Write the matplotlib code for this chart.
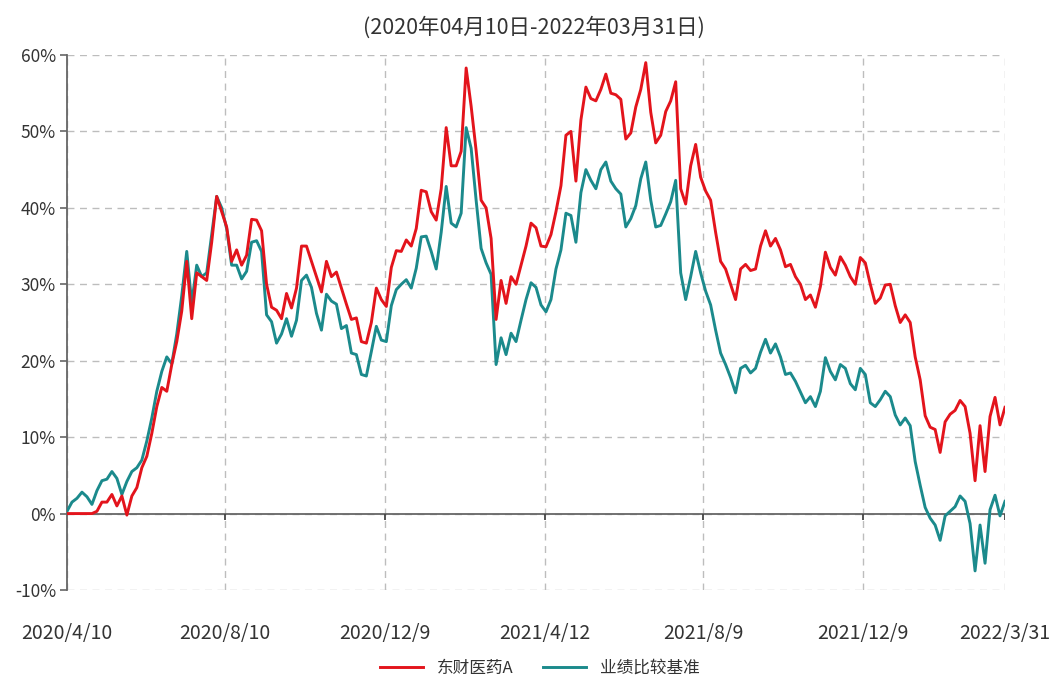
import matplotlib
matplotlib.use("Agg")
import matplotlib.pyplot as plt
from matplotlib.ticker import FixedLocator, FuncFormatter
import numpy as np

plt.rcParams['font.family'] = ['Noto Sans CJK SC', 'DejaVu Sans']

title = "(2020年04月10日-2022年03月31日)"
series_names = ["东财医药A", "业绩比较基准"]
x_tick_labels = ["2020/4/10", "2020/8/10", "2020/12/9", "2021/4/12", "2021/8/9", "2021/12/9", "2022/3/31"]
y_ticks = [-10, 0, 10, 20, 30, 40, 50, 60]

# cumulative return (%) of the fund, sampled evenly along the period
fund = [
    0, 0, 0, 0, 0, 0, 0.3, 1.5, 1.5, 2.5,
    1.0, 2.3, -0.2, 2.3, 3.4, 6.0, 7.5, 10.5, 14.0, 16.5,
    16.0, 19.5, 22.5, 26.5, 33.0, 25.5, 31.5, 31.0, 30.5, 35.5,
    41.5, 39.5, 37.5, 33.0, 34.5, 32.5, 33.8, 38.5, 38.4, 37.0,
    30.0, 27.0, 26.6, 25.5, 28.8, 26.9, 29.5, 35.0, 35.0, 33.0,
    31.0, 29.0, 33.0, 31.0, 31.6, 29.5, 27.4, 25.4, 25.6, 22.5,
    22.3, 25.0, 29.5, 28.0, 27.1, 32.2, 34.4, 34.3, 35.8, 35.0,
    37.3, 42.3, 42.1, 39.5, 38.4, 42.5, 50.5, 45.5, 45.5, 47.4,
    58.3, 53.3, 47.5, 41.0, 40.0, 36.0, 25.4, 30.5, 27.5, 31.0,
    30.0, 32.5, 35.0, 38.0, 37.4, 35.0, 34.9, 36.5, 39.5, 42.9,
    49.5, 50.0, 43.5, 51.5, 55.8, 54.3, 54.0, 55.5, 57.5, 55.0,
    54.8, 54.2, 49.0, 49.8, 53.2, 55.5, 59.0, 52.5, 48.5, 49.5,
    52.6, 54.0, 56.5, 42.5, 40.5, 45.5, 48.3, 44.0, 42.2, 41.0,
    36.8, 33.0, 32.0, 30.0, 28.0, 32.0, 32.6, 31.8, 32.0, 35.0,
    37.0, 35.0, 36.0, 34.5, 32.3, 32.6, 31.0, 30.0, 28.0, 28.6,
    27.0, 29.7, 34.2, 32.2, 31.2, 33.6, 32.5, 31.0, 30.0, 33.5,
    32.8, 30.0, 27.5, 28.2, 29.9, 30.0, 27.2, 25.0, 26.0, 25.0,
    20.5, 17.5, 12.8, 11.3, 11.0, 8.0, 12.0, 13.0, 13.5, 14.8,
    14.0, 10.5, 4.3, 11.5, 5.5, 12.7, 15.2, 11.6, 13.9,
]

# cumulative return (%) of the benchmark
bench = [
    0.3, 1.5, 2.0, 2.8, 2.2, 1.2, 3.0, 4.3, 4.5, 5.5,
    4.6, 2.5, 4.2, 5.5, 6.0, 7.0, 9.5, 12.5, 16.0, 18.6,
    20.5, 19.6, 23.5, 28.5, 34.3, 27.5, 32.5, 31.0, 31.5, 36.5,
    41.5, 40.0, 37.3, 32.5, 32.5, 30.7, 31.7, 35.5, 35.7, 34.3,
    26.0, 25.1, 22.3, 23.5, 25.5, 23.2, 25.3, 30.5, 31.2, 29.6,
    26.2, 24.0, 28.7, 27.8, 27.4, 24.2, 24.6, 21.0, 20.8, 18.2,
    18.0, 21.2, 24.5, 22.7, 22.5, 27.2, 29.3, 30.0, 30.6, 29.5,
    32.1, 36.2, 36.3, 34.3, 32.0, 36.8, 42.8, 38.0, 37.5, 39.3,
    50.5, 47.8, 41.0, 34.7, 32.8, 31.3, 19.5, 23.0, 20.8, 23.6,
    22.5, 25.3, 28.0, 30.2, 29.6, 27.3, 26.4, 28.0, 32.0, 34.5,
    39.3, 39.0, 35.5, 42.0, 45.0, 43.6, 42.5, 45.0, 46.0, 43.5,
    42.5, 41.8, 37.5, 38.6, 40.3, 43.8, 46.0, 41.0, 37.5, 37.7,
    39.2, 40.8, 43.6, 31.5, 28.0, 31.0, 34.3, 31.5, 29.1, 27.3,
    24.0, 21.0, 19.5, 17.8, 15.8, 19.0, 19.4, 18.4, 19.0, 21.1,
    22.8, 21.0, 22.2, 20.5, 18.2, 18.4, 17.3, 15.9, 14.5, 15.3,
    14.0, 16.0, 20.4, 18.6, 17.5, 19.5, 19.0, 17.0, 16.2, 19.0,
    18.2, 14.5, 14.0, 14.9, 16.0, 15.3, 12.9, 11.6, 12.5, 11.5,
    6.8, 3.7, 0.8, -0.6, -1.5, -3.5, -0.3, 0.3, 0.9, 2.3,
    1.6, -1.3, -7.5, -1.5, -6.5, 0.5, 2.4, -0.3, 1.6,
]

# layout: relative positions of the date ticks along the axis
tick_frac = [0.0, 0.1684, 0.339, 0.5096, 0.678, 0.8486, 1.0]

RED = "#E3141C"
TEAL = "#1B8A8C"
AX = "#666666"
TXT = "#333333"
GRID = "#BDBDBD"

fig = plt.figure(figsize=(10.54, 6.84), dpi=100)
ax = fig.add_axes([67/1054, 1-590/684, (1005-67)/1054, (590-55)/684])

n = len(fund)
ax.plot(np.arange(len(fund)), fund, color=RED, lw=2.1, label=series_names[0], zorder=4)
ax.plot(np.arange(len(bench)), bench, color=TEAL, lw=2.1, label=series_names[1], zorder=3)

ax.set_xlim(0, n - 1)
ax.set_ylim(-10, 60)

xt = [f * (n - 1) for f in tick_frac]
ax.xaxis.set_major_locator(FixedLocator(xt))
ax.set_xticklabels(x_tick_labels)
ax.yaxis.set_major_locator(FixedLocator(y_ticks))
ax.yaxis.set_major_formatter(FuncFormatter(lambda v, p: f"{int(v)}%"))

ax.grid(True, color=GRID, linestyle=(0, (5, 4)), linewidth=1.0, zorder=0)
ax.axhline(0, color=AX, lw=1.3, zorder=2)
ax.vlines(xt[1:], -0.9, 0, color="#444444", lw=1.3, zorder=2)

for s in ["top", "right", "bottom"]:
    ax.spines[s].set_visible(False)
ax.spines["left"].set_color(AX)
ax.spines["left"].set_linewidth(1.3)

ax.tick_params(axis="x", length=0, pad=24, labelsize=14, labelcolor=TXT)
ax.tick_params(axis="y", length=5, width=1.2, color=AX, labelsize=12.5, labelcolor=TXT, pad=3)

fig.text(0.507, 1-28/684, title, ha="center", va="center", fontsize=15.5, color=TXT)

fig.legend(loc="center", bbox_to_anchor=(0.512, 1-668/684), ncol=2, frameon=False,
           fontsize=12, handlelength=2.6, columnspacing=1.8, labelcolor=TXT)

fig.savefig("out.png", dpi=100)
